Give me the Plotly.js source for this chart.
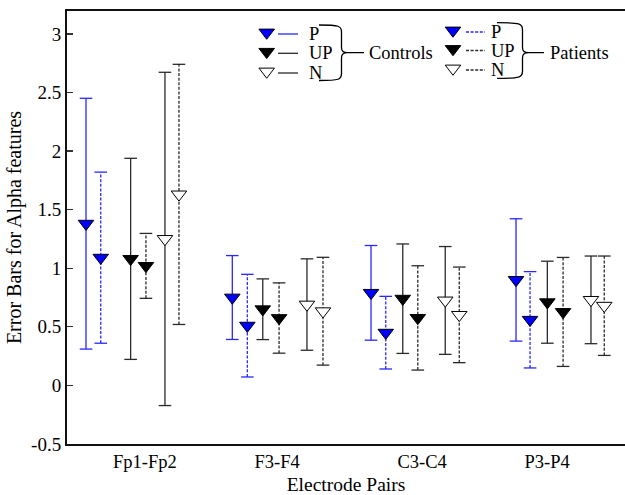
<!DOCTYPE html>
<html>
<head>
<meta charset="utf-8">
<script src="https://cdn.plot.ly/plotly-3.0.1.min.js"></script>
<style>html,body{margin:0;padding:0;background:#fff;}#chart{width:625px;height:495px;}</style>
</head>
<body>
<div id="chart"></div>
<script>
// ---------- data ----------
const categories = ['Fp1-Fp2', 'F3-F4', 'C3-C4', 'P3-P4'];
const yTickValues = [-0.5, 0, 0.5, 1, 1.5, 2, 2.5, 3];
const yTickLabels = ['-0.5', '0', '0.5', '1', '1.5', '2', '2.5', '3'];

// means
const controlsP  = [1.38, 0.75, 0.79, 0.90];
const patientsP  = [1.09, 0.51, 0.45, 0.56];
const controlsUP = [1.08, 0.65, 0.74, 0.71];
const patientsUP = [1.02, 0.575, 0.576, 0.627];
const controlsN  = [1.25, 0.69, 0.725, 0.73];
const patientsN  = [1.63, 0.633, 0.602, 0.68];
// error half-widths
const controlsPErr  = [1.07, 0.358, 0.404, 0.522];
const patientsPErr  = [0.73, 0.438, 0.31, 0.411];
const controlsUPErr = [0.858, 0.259, 0.467, 0.35];
const patientsUPErr = [0.277, 0.30, 0.445, 0.465];
const controlsNErr  = [1.422, 0.39, 0.46, 0.374];
const patientsNErr  = [1.11, 0.46, 0.408, 0.424];

// ---------- layout / style (not data) ----------
const slotX = {
  controlsP:  [0.633, 1.656, 2.626, 3.640],
  patientsP:  [0.736, 1.761, 2.729, 3.738],
  controlsUP: [0.945, 1.869, 2.848, 3.859],
  patientsUP: [1.052, 1.983, 2.953, 3.969],
  controlsN:  [1.185, 2.178, 3.145, 4.164],
  patientsN:  [1.283, 2.290, 3.243, 4.257]
};
const catTickX = [1.045, 1.969, 2.983, 3.857];

const BLUE = 'rgb(40,40,255)';
const DARK = '#2a2a2a';
const DASH = '3px,1.6px';
const FONT = 'Liberation Serif, Times New Roman, serif';
const MSIZE = 13.5;

const series = [
  {key: 'controlsP',  mean: controlsP,  err: controlsPErr,  bar: BLUE, dash: 'solid', fill: 'blue'},
  {key: 'patientsP',  mean: patientsP,  err: patientsPErr,  bar: BLUE, dash: DASH,    fill: 'blue'},
  {key: 'controlsUP', mean: controlsUP, err: controlsUPErr, bar: DARK, dash: 'solid', fill: 'black'},
  {key: 'patientsUP', mean: patientsUP, err: patientsUPErr, bar: DARK, dash: DASH,    fill: 'black'},
  {key: 'controlsN',  mean: controlsN,  err: controlsNErr,  bar: DARK, dash: 'solid', fill: 'white'},
  {key: 'patientsN',  mean: patientsN,  err: patientsNErr,  bar: DARK, dash: DASH,    fill: 'white'}
];

const traces = [];
// error bars (vertical segment + caps)
series.forEach(s => {
  const xs = [], ys = [];
  s.mean.forEach((m, i) => {
    const x = slotX[s.key][i];
    xs.push(x, x, null);
    ys.push(m - s.err[i], m + s.err[i], null);
  });
  traces.push({
    type: 'scatter', mode: 'lines+markers', x: xs, y: ys, showlegend: false, hoverinfo: 'skip',
    line: {color: s.bar, width: 1.3, dash: s.dash},
    marker: {symbol: 'line-ew', size: 9, line: {color: s.bar, width: 1.3}}
  });
});
// mean markers
series.forEach(s => {
  traces.push({
    type: 'scatter', mode: 'markers', x: slotX[s.key], y: s.mean, name: s.key, showlegend: false,
    marker: {symbol: 'triangle-down', size: MSIZE, color: s.fill, line: {color: 'black', width: 1}}
  });
});

// ---------- hand-drawn legend on a pixel-coordinate overlay ----------
const legendGroups = [
  {mx: 266.7, lx0: 278, lx1: 298, tx: 307, rows: [34, 53.3, 73], dash: 'solid'},
  {mx: 453,   lx0: 466, lx1: 485, tx: 489, rows: [32, 50.5, 70], dash: DASH}
];
const legendRowLabels = ['P', 'UP', 'N'];
const legendRowFill = ['blue', 'black', 'white'];
const legendRowLine = [BLUE, DARK, DARK];
const annotations = [];
legendGroups.forEach(g => {
  g.rows.forEach((ry, r) => {
    traces.push({type: 'scatter', mode: 'markers', xaxis: 'x2', yaxis: 'y2', x: [g.mx], y: [ry - 1.5],
      showlegend: false, hoverinfo: 'skip',
      marker: {symbol: 'triangle-down', size: MSIZE, color: legendRowFill[r], line: {color: 'black', width: 1}}});
    traces.push({type: 'scatter', mode: 'lines', xaxis: 'x2', yaxis: 'y2', x: [g.lx0, g.lx1], y: [ry, ry],
      showlegend: false, hoverinfo: 'skip', line: {color: legendRowLine[r], width: 1.3, dash: g.dash}});
    annotations.push({xref: 'x2', yref: 'y2', x: g.tx, y: ry, text: legendRowLabels[r], showarrow: false,
      xanchor: 'left', yanchor: 'middle', font: {family: FONT, size: 18.5, color: 'black'}});
  });
});
annotations.push({xref: 'x2', yref: 'y2', x: 367, y: 52.5, text: 'Controls', showarrow: false,
  xanchor: 'left', yanchor: 'middle', font: {family: FONT, size: 18.5, color: 'black'}});
annotations.push({xref: 'x2', yref: 'y2', x: 548, y: 52.5, text: 'Patients', showarrow: false,
  xanchor: 'left', yanchor: 'middle', font: {family: FONT, size: 18.5, color: 'black'}});

function bracePath(x0, xc, xt, yTop, yMid, yBot) {
  return `M${x0},${yTop} C${xc - 2},${yTop} ${xc},${yTop + 1} ${xc},${yTop + 7} L${xc},${yMid - 5} ` +
         `C${xc},${yMid - 1} ${xc + 3},${yMid} ${xc + 6},${yMid} L${xt},${yMid} ` +
         `M${xc + 6},${yMid} C${xc + 3},${yMid} ${xc},${yMid + 1} ${xc},${yMid + 5} L${xc},${yBot - 7} ` +
         `C${xc},${yBot - 1} ${xc - 2},${yBot} ${x0},${yBot}`;
}
const shapes = [
  {type: 'path', xref: 'x2', yref: 'y2', path: bracePath(319, 341.5, 364, 25, 52.7, 80.5), line: {color: 'black', width: 1.3}},
  {type: 'path', xref: 'x2', yref: 'y2', path: bracePath(497, 522.5, 544, 22.7, 52.7, 78.3), line: {color: 'black', width: 1.3}}
];

const layout = {
  width: 625, height: 495,
  margin: {l: 67, r: 0, t: 11, b: 51},
  paper_bgcolor: 'white', plot_bgcolor: 'white',
  font: {family: FONT, color: 'black', size: 19},
  showlegend: false,
  xaxis: {
    range: [0.5, 4.402], showgrid: false, zeroline: false,
    showline: true, mirror: true, linewidth: 2, linecolor: '#111',
    tickmode: 'array', tickvals: catTickX, ticktext: categories, ticks: '',
    tickfont: {family: FONT, size: 18.5, color: 'black'},
    title: {text: 'Electrode Pairs', font: {family: FONT, size: 19.5, color: 'black'}, standoff: 6}
  },
  yaxis: {
    range: [-0.5, 3.195], showgrid: false, zeroline: false,
    showline: true, linewidth: 2, linecolor: '#111',
    tickmode: 'array', tickvals: yTickValues, ticktext: yTickLabels,
    ticks: 'inside', ticklen: 6, tickwidth: 1.3, tickcolor: '#333',
    tickfont: {family: FONT, size: 19, color: 'black'},
    title: {text: 'Error Bars for Alpha features', font: {family: FONT, size: 20, color: 'black'}, standoff: 4}
  },
  xaxis2: {overlaying: 'x', anchor: 'y2', range: [67, 625], visible: false, fixedrange: true},
  yaxis2: {overlaying: 'y', anchor: 'x2', range: [444, 11], visible: false, fixedrange: true},
  annotations: annotations,
  shapes: shapes
};

Plotly.newPlot('chart', traces, layout, {displayModeBar: false, staticPlot: true});
</script>
</body>
</html>
